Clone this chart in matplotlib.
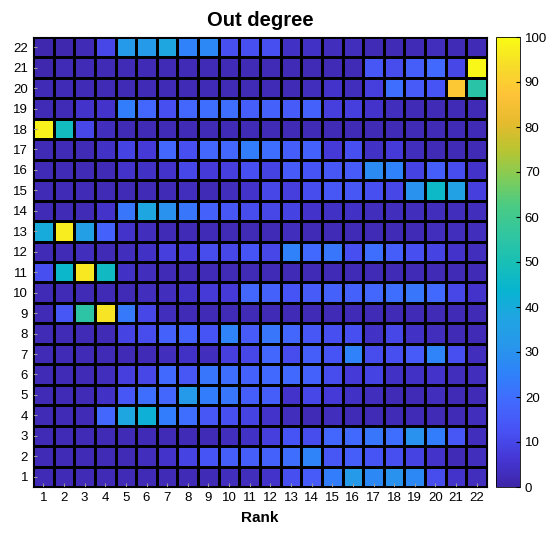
import numpy as np
import matplotlib
matplotlib.use("Agg")
from matplotlib import pyplot as plt
from matplotlib.colors import LinearSegmentedColormap

plt.rcParams['font.family'] = ['Liberation Sans', 'DejaVu Sans']

# MATLAB parula, every 4th entry of the 64-colour table
PARULA = [
    (0.2422, 0.1504, 0.6603), (0.2706, 0.2147, 0.8364), (0.2810, 0.3228, 0.9579),
    (0.2602, 0.4123, 0.9952), (0.1834, 0.5074, 0.9798), (0.1540, 0.5902, 0.9218),
    (0.1248, 0.6459, 0.8883), (0.0297, 0.7082, 0.8163), (0.0964, 0.7500, 0.7120),
    (0.1938, 0.7758, 0.6251), (0.2906, 0.7973, 0.5188), (0.5044, 0.7993, 0.3480),
    (0.7242, 0.7698, 0.1910), (0.9035, 0.7330, 0.1774), (0.9970, 0.7659, 0.2199),
    (0.9676, 0.8639, 0.1643), (0.9769, 0.9839, 0.0805),
]
parula = LinearSegmentedColormap.from_list("parula", PARULA)

ranks = list(range(1, 23))
nodes = list(range(1, 23))

# out degree per node (rows listed from node 22 down to node 1), columns = rank 1..22
out_degree = [
    [1, 1, 2, 10, 33, 33, 38, 25, 27, 12, 12, 12, 4, 4, 3, 3, 2, 2, 2, 3, 2, 2],      # 22
    [1, 2, 2, 2, 2, 2, 2, 2, 2, 2, 2, 2, 2, 2, 2, 2, 14, 11, 16, 19, 10, 99],          # 21
    [2, 2, 2, 2, 2, 2, 2, 2, 2, 2, 2, 2, 2, 3, 5, 3, 8, 20, 15, 13, 89, 54],           # 20
    [2, 2, 5, 5, 24, 18, 12, 18, 20, 20, 16, 17, 15, 17, 8, 8, 5, 3, 2, 2, 2, 2],      # 19
    [98, 48, 10, 3, 2, 2, 2, 2, 2, 2, 2, 2, 2, 2, 2, 2, 2, 2, 2, 2, 2, 2],            # 18
    [2, 2, 2, 4, 9, 7, 18, 12, 18, 18, 24, 20, 16, 17, 7, 12, 4, 7, 3, 2, 2, 2],       # 17
    [2, 2, 2, 2, 5, 4, 5, 10, 7, 8, 12, 9, 15, 13, 14, 15, 28, 25, 9, 16, 11, 5],      # 16
    [2, 2, 2, 2, 2, 2, 2, 3, 2, 3, 5, 10, 8, 11, 14, 14, 12, 10, 30, 46, 36, 8],       # 15
    [2, 2, 2, 5, 22, 38, 30, 22, 17, 14, 11, 10, 9, 5, 4, 4, 3, 3, 3, 3, 3, 3],        # 14
    [40, 97, 35, 17, 5, 3, 2, 2, 2, 2, 2, 2, 3, 2, 2, 2, 2, 2, 2, 3, 3, 3],            # 13
    [2, 2, 3, 2, 3, 4, 8, 7, 11, 10, 13, 10, 25, 19, 22, 12, 20, 16, 12, 9, 5, 3],     # 12
    [12, 45, 96, 47, 4, 3, 2, 2, 2, 2, 2, 2, 2, 2, 2, 2, 2, 2, 2, 2, 2, 2],            # 11
    [2, 2, 2, 2, 2, 3, 3, 4, 7, 7, 18, 17, 13, 15, 17, 17, 18, 20, 22, 19, 10, 5],     # 10
    [2, 14, 55, 95, 23, 10, 3, 2, 2, 2, 2, 2, 2, 2, 2, 2, 2, 2, 2, 2, 2, 2],           # 9
    [2, 2, 2, 2, 9, 11, 17, 17, 13, 26, 15, 22, 18, 14, 12, 12, 4, 10, 4, 3, 2, 2],    # 8
    [2, 2, 2, 2, 2, 2, 3, 4, 3, 8, 10, 18, 11, 16, 13, 25, 11, 12, 15, 26, 12, 3],     # 7
    [2, 2, 2, 3, 8, 10, 19, 14, 22, 20, 17, 19, 19, 17, 11, 7, 9, 4, 4, 5, 3, 3],      # 6
    [2, 2, 2, 4, 14, 20, 18, 33, 24, 22, 16, 16, 5, 10, 7, 4, 3, 2, 2, 3, 2, 2],       # 5
    [2, 2, 2, 18, 38, 42, 24, 20, 14, 12, 9, 5, 3, 2, 3, 2, 2, 2, 2, 2, 2, 3],         # 4
    [2, 2, 2, 2, 2, 2, 2, 2, 2, 3, 4, 8, 13, 11, 18, 19, 22, 20, 30, 24, 14, 3],       # 3
    [2, 2, 2, 2, 2, 3, 5, 9, 13, 16, 16, 17, 20, 26, 14, 16, 13, 12, 9, 5, 2, 3],      # 2
    [2, 2, 2, 2, 2, 2, 2, 2, 2, 3, 3, 5, 12, 15, 24, 33, 27, 30, 27, 11, 5, 3],        # 1
]

grid = np.array(out_degree[::-1], dtype=float)  # row 0 -> node 1

fig = plt.figure(figsize=(5.5, 5.41), dpi=100)
ax = fig.add_axes([33 / 550, 1 - 487 / 541, 454 / 550, 450 / 541])
cax = fig.add_axes([496 / 550, 1 - 487 / 541, 24 / 550, 450 / 541])

edges_x = np.arange(len(ranks) + 1) + 0.5
edges_y = np.arange(len(nodes) + 1) + 0.5
mesh = ax.pcolormesh(edges_x, edges_y, grid, cmap=parula, vmin=0, vmax=100,
                     edgecolors='k', linewidth=0.8)

ax.set_xlim(0.5, len(ranks) + 0.5)
ax.set_ylim(0.5, len(nodes) + 0.5)
ax.set_xticks(ranks)
ax.set_yticks(nodes)
ax.tick_params(direction='in', labelsize=9.5, length=3, color='0.6')
ax.set_xlabel('Rank', fontsize=11, fontweight='bold', labelpad=5)
ax.set_title('Out degree', fontsize=14.5, fontweight='bold', pad=8)

cb = fig.colorbar(mesh, cax=cax)
cb.set_ticks(np.arange(0, 101, 10))
cb.ax.tick_params(labelsize=9.5, direction='in', length=3)
cb.outline.set_linewidth(0.6)

fig.savefig('out.png', dpi=100)
